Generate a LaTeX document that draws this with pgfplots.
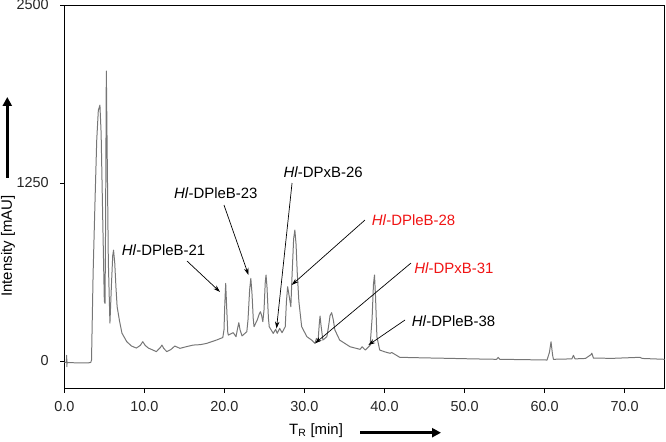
\documentclass[border=0pt]{standalone}
\usepackage{fontspec}
\setmainfont{Liberation Sans}
\usepackage{pgfplots}
\pgfplotsset{compat=1.18}
\usetikzlibrary{arrows.meta}

\definecolor{trace}{RGB}{118,118,118}
\definecolor{hlred}{RGB}{240,20,20}

% chromatogram: retention time [min], absorbance [mAU]
\pgfplotstableread{
t y
0 -10
0.25 -10
0.3 40
0.32 -40
0.35 -10
1 -12
2 -13
3 -13
3.3 -10
3.4 7
3.6 617
3.85 1150
4.05 1550
4.25 1760
4.45 1797
4.6 1600
4.8 1000
5.0 420
5.09 405
5.15 900
5.25 2036
5.35 1500
5.5 700
5.7 266
5.9 550
6.05 740
6.15 779
6.3 690
6.45 520
6.6 381
6.9 280
7.2 196
7.8 136
8.4 105
9.0 91
9.5 110
9.8 136
10.1 110
10.5 91
11.5 66
12.0 95
12.2 112
12.4 90
12.8 66
13.3 80
13.8 105
14.45 89
15.2 100
16.1 112
17.0 115
17.8 124
19.0 147
19.8 165
19.95 220
20.05 400
20.16 545
20.28 380
20.42 200
20.5 182
21.1 199
21.45 171
21.65 230
21.8 269
21.95 220
22.2 176
22.8 206
22.95 290
23.15 500
23.3 580
23.45 470
23.6 300
23.7 241
24.1 288
24.35 330
24.5 346
24.65 320
24.8 276
24.95 360
25.1 550
25.2 604
25.32 520
25.5 300
25.6 241
26.1 194
26.4 222
26.6 194
26.9 229
27.2 199
27.6 241
27.75 420
27.9 522
28.05 470
28.3 381
28.45 600
28.65 860
28.8 920
28.95 820
29.1 620
29.3 420
29.65 241
30.3 171
30.9 147
31.3 124
31.5 159
31.7 140
31.85 260
31.95 316
32.05 260
32.3 147
32.8 171
33.0 240
33.2 320
33.4 339
33.6 290
33.8 218
34.4 147
35.7 100
36.95 82
37.2 100
37.6 77
38.2 110
38.45 300
38.62 540
38.75 604
38.88 450
39.05 170
39.4 77
40.0 65
40.7 54
40.9 60
41.9 26
45 22
47.8 19
51 15
54.0 12
54.2 25
54.4 12
57 10
60.3 7
60.6 60
60.8 135
61.0 40
61.1 12
63.4 15
63.6 40
63.8 15
65.1 18
65.8 45
65.9 55
66.1 20
68.6 19
71.9 26
72.2 18
75 12
}\chrom

\begin{document}
\begin{tikzpicture}[
  annot/.style={font=\fontsize{15}{17}\selectfont, anchor=west, inner sep=0pt},
  arr/.style={-{Stealth[length=7bp,width=4.5bp]}, line width=0.7pt, black},
]
\useasboundingbox (0,0) rectangle (666bp,442bp);
\begin{axis}[
  at={(64.3bp,53.5bp)}, anchor=south west,
  scale only axis, width=600.4bp, height=383.5bp,
  xmin=0, xmax=75, ymin=-193, ymax=2500,
  clip=false,
  axis line style={line width=0.9pt},
  tick pos=left, tick align=outside, major tick length=4bp,
  every tick/.style={black, line width=0.9pt},
  xtick={0,10,...,70}, ytick={0,1250,2500},
  /pgf/number format/assume math mode=true,
  /pgf/number format/1000 sep={},
  xticklabel style={/pgf/number format/fixed, /pgf/number format/fixed zerofill,
    /pgf/number format/precision=1, yshift=-5bp},
  yticklabel style={xshift=-8bp},
  ticklabel style={font=\fontsize{14.5}{16}\selectfont, text=black!85},
]
\addplot[trace, line width=1pt, line join=round] table[x=t, y=y] {\chrom};

\node[annot] at (axis cs:7.17,779) {\textit{Hl}-DPleB-21};
\node[annot] at (axis cs:13.70,1180) {\textit{Hl}-DPleB-23};
\node[annot] at (axis cs:27.36,1327) {\textit{Hl}-DPxB-26};
\node[annot, text=hlred] at (axis cs:38.40,989) {\textit{Hl}-DPleB-28};
\node[annot, text=hlred] at (axis cs:43.69,653) {\textit{Hl}-DPxB-31};
\node[annot] at (axis cs:43.40,281) {\textit{Hl}-DPleB-38};

\draw[arr] (axis cs:15.33,702) -- (axis cs:19.45,485);
\draw[arr] (axis cs:19.95,1095) -- (axis cs:23.01,604);
\draw[arr] (axis cs:28.45,1250) -- (axis cs:26.51,228);
\draw[arr] (axis cs:37.56,990) -- (axis cs:28.41,534);
\draw[arr] (axis cs:43.31,688) -- (axis cs:31.32,124);
\draw[arr] (axis cs:42.56,288) -- (axis cs:37.98,112);
\end{axis}

% axis titles with direction arrows
\node[rotate=90, font=\fontsize{15}{17}\selectfont, inner sep=0pt] at (8bp,196bp) {Intensity [mAU]};
\draw[line width=2.6bp, -{Triangle[length=9bp,width=9bp]}] (7.3bp,264bp) -- (7.3bp,345bp);
\node[anchor=base west, font=\fontsize{15}{17}\selectfont, inner sep=0pt] at (289bp,8bp) {T\textsubscript{R} [min]};
\draw[line width=2.6bp, -{Triangle[length=9bp,width=9bp]}] (360bp,9.3bp) -- (441bp,9.3bp);
\end{tikzpicture}
\end{document}
